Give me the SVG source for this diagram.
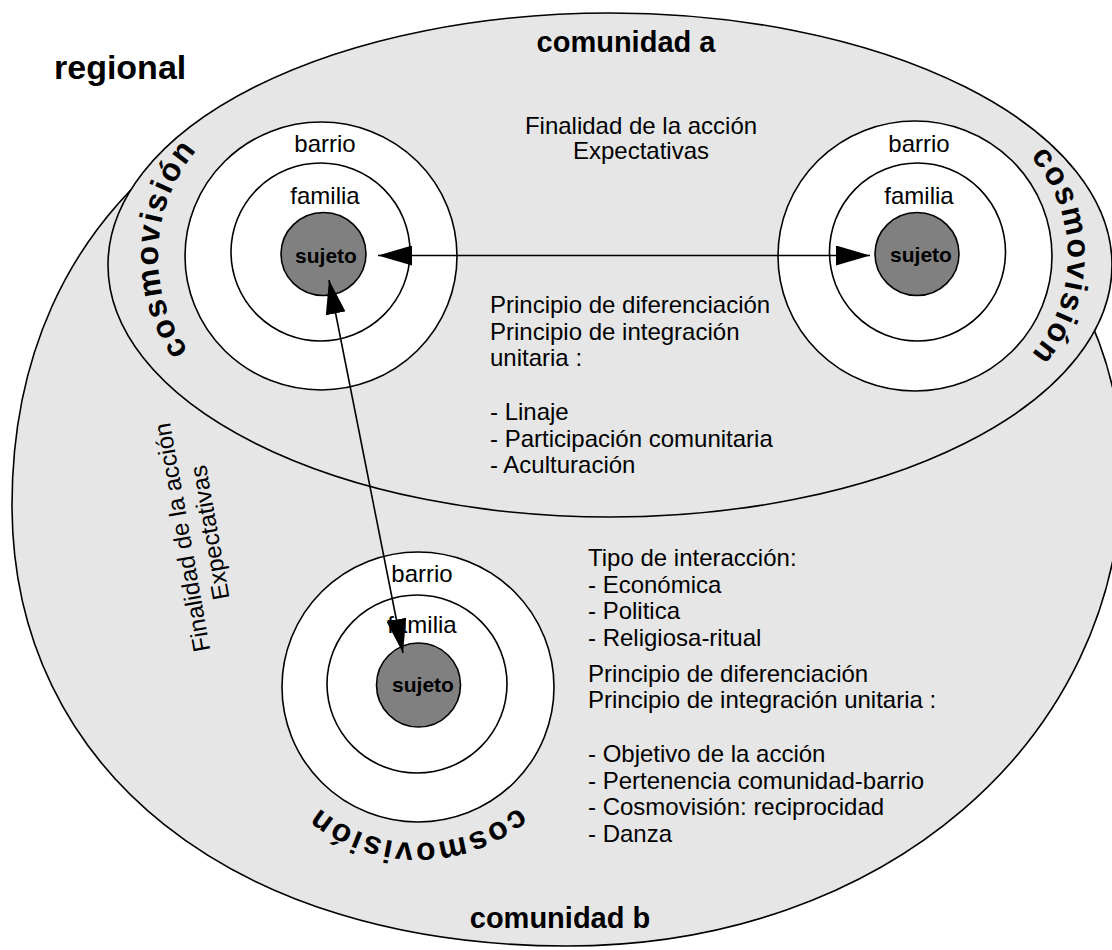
<svg xmlns="http://www.w3.org/2000/svg" width="1112" height="950" viewBox="0 0 1112 950">
<style>
  .zone { fill: #e6e6e6; stroke: #000; stroke-width: 1.6; }
  .ring { fill: #fff; stroke: #000; stroke-width: 1.6; }
  .core { fill: #808080; stroke: #000; stroke-width: 1.6; }
  text { font-family: "Liberation Sans", Arial, Helvetica, sans-serif; fill: #000; }
  .lbl { font-size: 24px; }
  .mid { text-anchor: middle; }
  .core-lbl { font-size: 21px; font-weight: bold; text-anchor: middle; }
  .title { font-size: 29px; font-weight: bold; text-anchor: middle; }
  .cosmo { font-size: 32px; font-weight: bold; letter-spacing: 2px; }
  .link { stroke: #000; stroke-width: 1.6; fill: none; marker-start: url(#head); marker-end: url(#head); }
</style>
<defs>
  <marker id="head" viewBox="0 0 34 20" refX="34" refY="10" markerWidth="34" markerHeight="20" markerUnits="userSpaceOnUse" orient="auto-start-reverse">
    <path d="M0,0 L34,10 L0,20 z" fill="#000"/>
  </marker>
  <!-- baselines for the curved "cosmovisión" labels -->
  <path id="arc-left" d="M299.2,417.5 A163,163 0 0 1 314.5,93.1"/>
  <path id="arc-right" d="M930.2,105.6 A151,151 0 0 1 930.2,406.4"/>
  <path id="arc-bottom" d="M574.4,699.7 A157,157 0 0 1 261.6,699.7"/>
</defs>

<!-- community b (outer region) -->
<g id="comunidad-b">
  <path class="zone" d="M567,946 C234,946 12,770 12,505 C12,210.5 231.6,30 590,30 C882.6,30 1122,228 1122,470 C1122,741 883,946 567,946 Z"/>
  <text class="title" x="560" y="928">comunidad b</text>
</g>

<!-- community a -->
<g id="comunidad-a">
  <ellipse class="zone" cx="610" cy="265" rx="502" ry="252"/>
  <text class="title" x="626" y="52">comunidad a</text>
</g>

<text id="regional" x="54" y="79" style="font-size:34px;font-weight:bold">regional</text>

<!-- left subject cluster -->
<g id="cluster-a-left">
  <ellipse class="ring" cx="321" cy="256" rx="136" ry="134"/>
  <ellipse class="ring" cx="320.5" cy="252" rx="89.5" ry="89"/>
  <ellipse class="core" cx="323.5" cy="254" rx="42.5" ry="41.5"/>
  <text class="lbl mid" x="325" y="152">barrio</text>
  <text class="lbl mid" x="325" y="204">familia</text>
  <text class="core-lbl" x="326" y="263">sujeto</text>
  <text class="cosmo"><textPath href="#arc-left" startOffset="50%" text-anchor="middle">cosmovisión</textPath></text>
</g>

<!-- right subject cluster -->
<g id="cluster-a-right">
  <ellipse class="ring" cx="915" cy="256" rx="137" ry="135"/>
  <ellipse class="ring" cx="917.5" cy="252" rx="88" ry="89"/>
  <ellipse class="core" cx="917" cy="254" rx="42" ry="41.5"/>
  <text class="lbl mid" x="919" y="152">barrio</text>
  <text class="lbl mid" x="919" y="204">familia</text>
  <text class="core-lbl" x="921" y="262">sujeto</text>
  <text class="cosmo"><textPath href="#arc-right" startOffset="50%" text-anchor="middle">cosmovisión</textPath></text>
</g>

<!-- bottom subject cluster -->
<g id="cluster-b">
  <ellipse class="ring" cx="418" cy="687" rx="136" ry="135"/>
  <ellipse class="ring" cx="417" cy="684" rx="90" ry="89"/>
  <ellipse class="core" cx="418.5" cy="685" rx="42" ry="42"/>
  <text class="lbl mid" x="422" y="582">barrio</text>
  <text class="lbl mid" x="422" y="633">familia</text>
  <text class="core-lbl" x="423" y="692">sujeto</text>
  <text class="cosmo"><textPath href="#arc-bottom" startOffset="50%" text-anchor="middle">cosmovisión</textPath></text>
</g>

<!-- descriptive notes -->
<g id="note-a-top" class="lbl mid">
  <text x="641" y="134">Finalidad de la acción</text>
  <text x="641" y="159">Expectativas</text>
</g>

<g id="note-a-principles" class="lbl">
  <text x="490" y="313">Principio de diferenciación</text>
  <text x="490" y="339.5">Principio de integración</text>
  <text x="490" y="366">unitaria :</text>
  <text x="490" y="420">- Linaje</text>
  <text x="490" y="446.5">- Participación comunitaria</text>
  <text x="490" y="473">- Aculturación</text>
</g>

<g id="note-b-side" class="lbl mid" transform="translate(196,535) rotate(-100)">
  <text x="0" y="-6">Finalidad de la acción</text>
  <text x="0" y="22">Expectativas</text>
</g>

<g id="note-b-interaction" class="lbl">
  <text x="588" y="566">Tipo de interacción:</text>
  <text x="588" y="593">- Económica</text>
  <text x="588" y="619">- Politica</text>
  <text x="588" y="646">- Religiosa-ritual</text>
  <text x="588" y="682">Principio de diferenciación</text>
  <text x="588" y="708">Principio de integración unitaria :</text>
  <text x="588" y="762">- Objetivo de la acción</text>
  <text x="588" y="789">- Pertenencia comunidad-barrio</text>
  <text x="588" y="815">- Cosmovisión: reciprocidad</text>
  <text x="588" y="842">- Danza</text>
</g>

<!-- interaction links between subjects -->
<g id="connectors">
  <line class="link" x1="378" y1="255.5" x2="870" y2="255.5"/>
  <line class="link" x1="329" y1="280" x2="403" y2="653"/>
</g>
</svg>
